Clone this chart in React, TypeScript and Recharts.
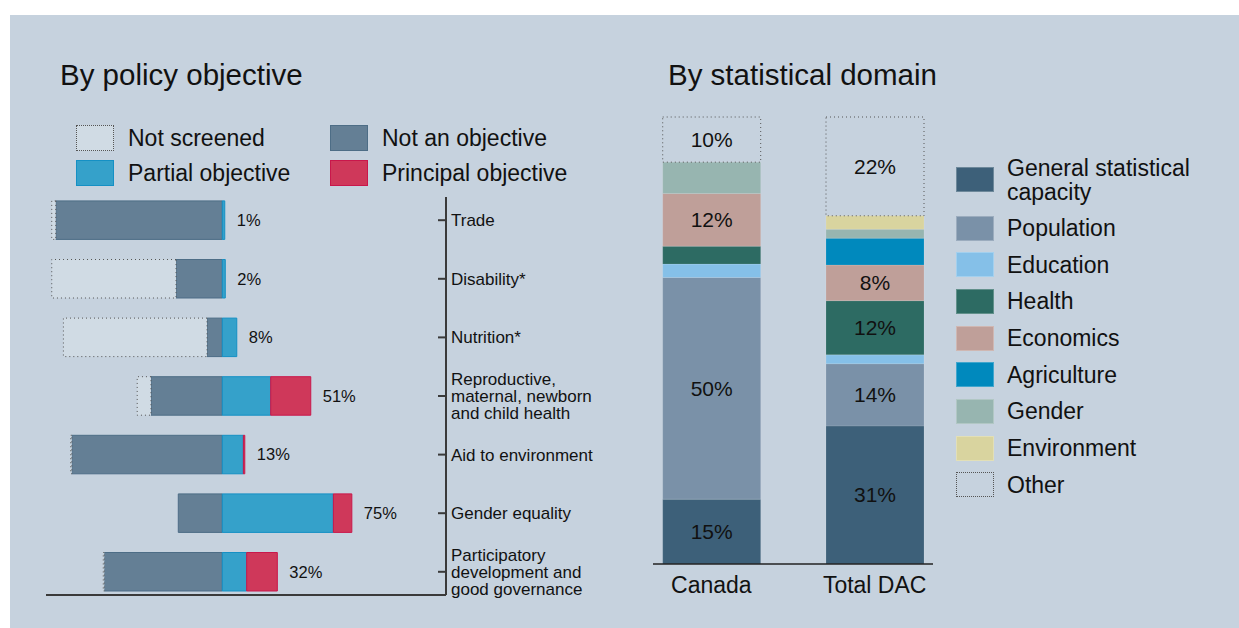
// Two-panel chart: policy-objective screening (diverging bars) and statistical domain shares (100% stacked)

import { BarChart, Bar, XAxis, YAxis, LabelList } from 'recharts';

const FONT = '"Liberation Sans", Arial, sans-serif';
const BG = '#c6d2de';
const INK = '#111';

// ---- left panel: by policy objective ----
const objectives = [
  'Trade',
  'Disability*',
  'Nutrition*',
  'Reproductive,\nmaternal, newborn\nand child health',
  'Aid to environment',
  'Gender equality',
  'Participatory\ndevelopment and\ngood governance',
];
const notScreened = [2.3, 71.4, 82.5, 7.9, 0.6, 0, 0.6];
const notObjective = [95.7, 26.6, 8.8, 41.0, 86.5, 25.3, 67.8];
const partialObjective = [1.4, 1.7, 8.3, 27.8, 12.1, 63.8, 14.0];
const principalObjective = [0, 0, 0, 23.0, 0.8, 10.6, 17.6];
const objectiveShare = [1, 2, 8, 51, 13, 75, 32];

// the share label sits after the last non-empty segment
const policyRows = objectives.map((name, i) => ({
  name,
  notObjective: -notObjective[i],
  notScreened: -notScreened[i],
  partial: partialObjective[i],
  principal: principalObjective[i],
  shareOnPartial: principalObjective[i] > 0 ? null : objectiveShare[i],
  shareOnPrincipal: principalObjective[i] > 0 ? objectiveShare[i] : null,
}));

const policyLegend = [
  { label: 'Not screened', fill: '#d0dbe4', stroke: '#555', dotted: true },
  { label: 'Not an objective', fill: '#647f95', stroke: '#4d6d86' },
  { label: 'Partial objective', fill: '#35a1ca', stroke: '#1590c4' },
  { label: 'Principal objective', fill: '#cf385a', stroke: '#c9174b' },
];

// ---- right panel: by statistical domain ----
const donors = ['Canada', 'Total DAC'];
const domains = [
  { key: 'general', label: 'General statistical\ncapacity', fill: '#3d6079' },
  { key: 'population', label: 'Population', fill: '#7a91a8' },
  { key: 'education', label: 'Education', fill: '#85c0e8' },
  { key: 'health', label: 'Health', fill: '#2d6b63' },
  { key: 'economics', label: 'Economics', fill: '#bf9f99' },
  { key: 'agriculture', label: 'Agriculture', fill: '#0089bd' },
  { key: 'gender', label: 'Gender', fill: '#97b5b0' },
  { key: 'environment', label: 'Environment', fill: '#d9d49f' },
  { key: 'other', label: 'Other', fill: 'none' },
];
const generalCapacity = [14.5, 30.9];
const population = [49.6, 13.9];
const education = [3.0, 2.0];
const health = [4.0, 12.1];
const economics = [11.8, 8.0];
const agriculture = [0, 6.0];
const gender = [7.0, 2.0];
const environment = [0, 3.0];
const other = [10.1, 22.1];

const domainRows = donors.map((name, i) => ({
  name,
  general: generalCapacity[i],
  population: population[i],
  education: education[i],
  health: health[i],
  economics: economics[i],
  agriculture: agriculture[i],
  gender: gender[i],
  environment: environment[i],
  other: other[i],
}));

function ObjectiveTick(props: any) {
  const { x, y, payload } = props;
  const lines = String(payload.value).split('\n');
  const lh = 17;
  return (
    <g>
      <line x1={x - 8} y1={y} x2={x} y2={y} stroke="#3a3a3a" strokeWidth={2} />
      <text x={x + 5} fontSize={17} fontFamily={FONT} fill={INK}>
        {lines.map((ln, i) => (
          <tspan key={i} x={x + 5} y={y + (i - (lines.length - 1) / 2) * lh + 6}>
            {ln}
          </tspan>
        ))}
      </text>
    </g>
  );
}

function PolicyLegend() {
  return (
    <div style={{ position: 'relative', width: 520, height: 70, fontFamily: FONT, fontSize: 23, color: INK }}>
      {policyLegend.map((it, i) => {
        const col = i % 2;
        const row = Math.floor(i / 2);
        return (
          <div
            key={it.label}
            style={{ position: 'absolute', left: col * 254, top: row * 35, display: 'flex', alignItems: 'center', height: 26 }}
          >
            <div
              style={{
                width: 36,
                height: 24,
                background: it.fill,
                border: `1px ${it.dotted ? 'dotted' : 'solid'} ${it.stroke}`,
                marginRight: 14,
              }}
            />
            <span style={{ whiteSpace: 'nowrap' }}>{it.label}</span>
          </div>
        );
      })}
    </div>
  );
}

function DomainLegend() {
  return (
    <div style={{ fontFamily: FONT, fontSize: 23, color: INK, lineHeight: '24px' }}>
      {domains.map((d) => {
        const lines = d.label.split('\n');
        return (
          <div
            key={d.key}
            style={{ display: 'flex', alignItems: 'center', height: lines.length > 1 ? 60.3 : 36.7 }}
          >
            <div
              style={{
                width: 36,
                height: 23,
                flex: 'none',
                background: d.fill === 'none' ? 'transparent' : d.fill,
                border: d.fill === 'none' ? '1px dotted #555' : '1px solid rgba(255,255,255,0.25)',
                marginRight: 13,
              }}
            />
            <div>
              {lines.map((ln) => (
                <div key={ln} style={{ whiteSpace: 'nowrap' }}>
                  {ln}
                </div>
              ))}
            </div>
          </div>
        );
      })}
    </div>
  );
}

const shareLabel = (v: any) => (Number(v) >= 8 ? `${Math.round(Number(v))}%` : '');
const pct = (v: any) => `${v}%`;
const policyLabelStyle = { fontFamily: FONT, fontSize: 16.5, fill: INK };

export default function App() {
  return (
    <div style={{ position: 'fixed', left: 0, top: 0, width: 1239, height: 628, background: '#fff', overflow: 'hidden' }}>
      <div style={{ position: 'absolute', left: 10, top: 15, right: 0, bottom: 0, background: BG }} />

      <div style={{ position: 'absolute', left: 60, top: 58, fontFamily: FONT, fontSize: 29.5, color: INK, whiteSpace: 'nowrap' }}>
        By policy objective
      </div>
      <div style={{ position: 'absolute', left: 668, top: 58, fontFamily: FONT, fontSize: 29.5, color: INK, whiteSpace: 'nowrap' }}>
        By statistical domain
      </div>

      <div style={{ position: 'absolute', left: 76, top: 125 }}>
        <PolicyLegend />
      </div>

      <div style={{ position: 'absolute', left: 0, top: 0 }}>
        <BarChart
          width={640}
          height={628}
          data={policyRows}
          layout="vertical"
          stackOffset="sign"
          margin={{ top: 197, right: 14, bottom: 32, left: 46 }}
        >
          <XAxis
            type="number"
            domain={[-101.3, 128.5]}
            tick={false}
            tickLine={false}
            axisLine={{ stroke: '#3a3a3a', strokeWidth: 2 }}
            height={1}
          />
          <YAxis
            type="category"
            dataKey="name"
            orientation="right"
            width={180}
            padding={{ top: -6.1, bottom: -6.1 }}
            axisLine={{ stroke: '#3a3a3a', strokeWidth: 2 }}
            tickLine={false}
            tickSize={0}
            tickMargin={0}
            interval={0}
            tick={<ObjectiveTick />}
          />
          <Bar
            dataKey="notObjective"
            name="Not an objective"
            stackId="p"
            barSize={38.5}
            fill="#647f95"
            stroke="#4d6d86"
            strokeWidth={1}
            isAnimationActive={false}
          />
          <Bar
            dataKey="notScreened"
            name="Not screened"
            stackId="p"
            barSize={38.5}
            fill="#d0dbe4"
            stroke="#555"
            strokeDasharray="1 3"
            strokeWidth={1}
            isAnimationActive={false}
          />
          <Bar
            dataKey="partial"
            name="Partial objective"
            stackId="p"
            barSize={38.5}
            fill="#35a1ca"
            stroke="#1590c4"
            strokeWidth={1}
            isAnimationActive={false}
          >
            <LabelList dataKey="shareOnPartial" position="right" offset={12} formatter={pct} style={policyLabelStyle} />
          </Bar>
          <Bar
            dataKey="principal"
            name="Principal objective"
            stackId="p"
            barSize={38.5}
            fill="#cf385a"
            stroke="#c9174b"
            strokeWidth={1}
            isAnimationActive={false}
          >
            <LabelList dataKey="shareOnPrincipal" position="right" offset={12} formatter={pct} style={policyLabelStyle} />
          </Bar>
        </BarChart>
      </div>

      <div style={{ position: 'absolute', left: 620, top: 0 }}>
        <BarChart
          width={340}
          height={628}
          data={domainRows}
          margin={{ top: 117, right: 27, bottom: 24, left: 33 }}
        >
          <XAxis
            dataKey="name"
            padding={{ left: -23.3, right: -23.3 }}
            axisLine={{ stroke: '#222', strokeWidth: 1.5 }}
            tickLine={false}
            tickMargin={7}
            height={40}
            tick={{ fill: INK, fontSize: 23, fontFamily: FONT }}
          />
          <YAxis type="number" domain={[0, 100]} hide />
          {domains.map((d) => (
            <Bar
              key={d.key}
              dataKey={d.key}
              name={d.label}
              stackId="d"
              barSize={98}
              fill={d.fill}
              stroke={d.fill === 'none' ? '#555' : 'rgba(255,255,255,0.12)'}
              strokeDasharray={d.fill === 'none' ? '1 3' : undefined}
              strokeWidth={1}
              isAnimationActive={false}
            >
              <LabelList
                dataKey={d.key}
                position="center"
                formatter={shareLabel}
                style={{ fontFamily: FONT, fontSize: 21, fill: INK }}
              />
            </Bar>
          ))}
        </BarChart>
      </div>

      <div style={{ position: 'absolute', left: 956, top: 149.4 }}>
        <DomainLegend />
      </div>
    </div>
  );
}
